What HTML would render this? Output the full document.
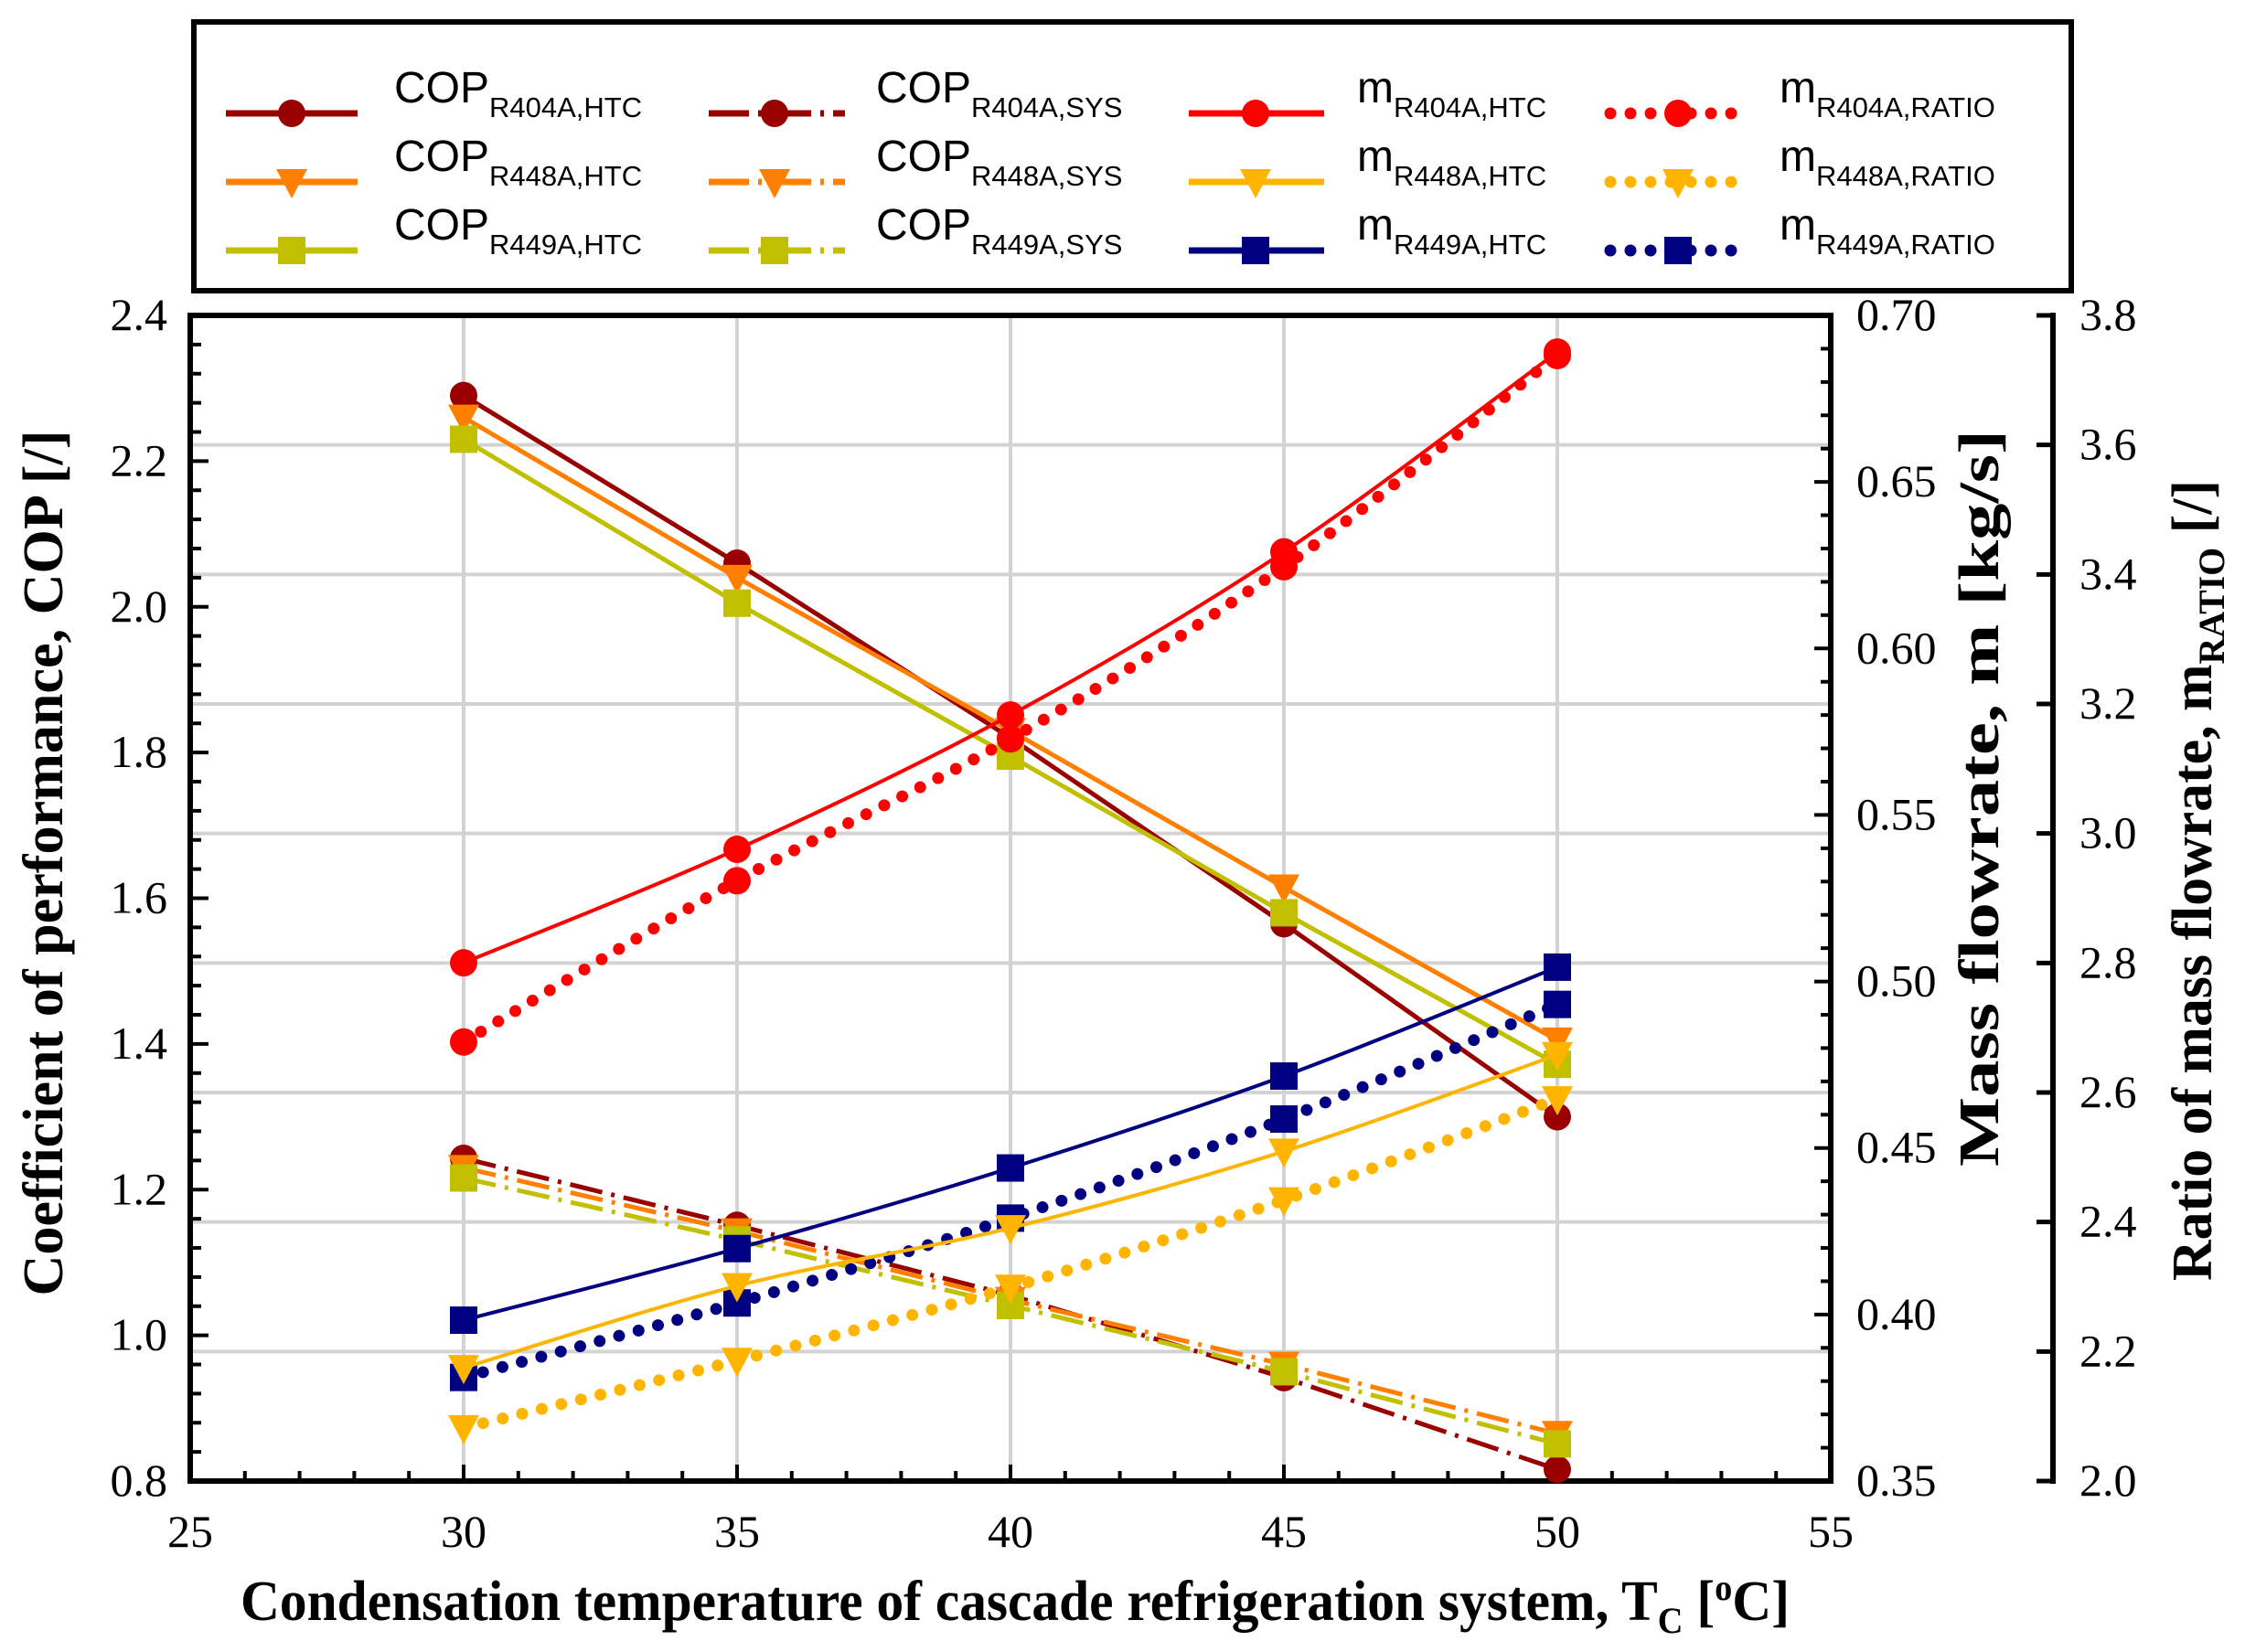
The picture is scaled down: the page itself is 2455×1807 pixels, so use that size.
<!DOCTYPE html>
<html><head><meta charset="utf-8">
<style>
html,body{margin:0;padding:0;background:#fff;}
svg{display:block;}
</style></head>
<body>
<svg id="chart" xmlns="http://www.w3.org/2000/svg" width="2455" height="1807" viewBox="0 0 2455 1807">
<rect x="0" y="0" width="2455" height="1807" fill="#fff"/>
<g id="grid"></g>
<g id="axes"></g>
<g id="series"></g>
<g id="legend"></g>
</svg>
<script>
// ---------- data ----------
const temps = [30, 35, 40, 45, 50];
const copR404aHtc = [2.29, 2.06, 1.82, 1.565, 1.30];
const copR448aHtc = [2.26, 2.04, 1.83, 1.615, 1.405];
const copR449aHtc = [2.23, 2.005, 1.795, 1.58, 1.372];
const copR404aSys = [1.243, 1.151, 1.055, 0.942, 0.816];
const copR448aSys = [1.230, 1.143, 1.049, 0.960, 0.865];
const copR449aSys = [1.216, 1.131, 1.041, 0.950, 0.851];
const mR404aHtc = [0.5056, 0.5397, 0.580, 0.629, 0.689];
const mR448aHtc = [0.384, 0.4086, 0.426, 0.449, 0.478];
const mR449aHtc = [0.3983, 0.4198, 0.444, 0.4716, 0.5043];
const rR404a = [2.678, 2.927, 3.146, 3.412, 3.738];
const rR448a = [2.082, 2.186, 2.299, 2.434, 2.590];
const rR449a = [2.160, 2.275, 2.406, 2.559, 2.736];
const xTicks = [25, 30, 35, 40, 45, 50, 55];
const copTicks = ["0.8","1.0","1.2","1.4","1.6","1.8","2.0","2.2","2.4"];
const massTicks = ["0.35","0.40","0.45","0.50","0.55","0.60","0.65","0.70"];
const ratioTicks = ["2.0","2.2","2.4","2.6","2.8","3.0","3.2","3.4","3.6","3.8"];

// ---------- geometry ----------
const L=208, R=2002, T=345, B=1620, FAR=2245;
const X = v => L + (v-25)/30*(R-L);
const Ycop = v => B - (v-0.8)/1.6*(B-T);
const Ym = v => B - (v-0.35)/0.35*(B-T);
const Yr = v => B - (v-2.0)/1.8*(B-T);
const NS="http://www.w3.org/2000/svg";
function mk(tag, attrs, parent){
  const e=document.createElementNS(NS,tag);
  for(const k in attrs) e.setAttribute(k, attrs[k]);
  parent.appendChild(e); return e;
}
const grid=document.getElementById('grid'), axes=document.getElementById('axes'),
      series=document.getElementById('series'), legend=document.getElementById('legend');
const SERIF='"Liberation Serif", serif', SANS='"Liberation Sans", sans-serif';

// ---------- grid ----------
for(let t=30;t<=50;t+=5){
  const g=mk('line',{x1:X(t),x2:X(t),y1:T,y2:B,stroke:'#d3d3d3','stroke-width':4},grid);
  
  
}
for(let i=1;i<ratioTicks.length-1;i++){
  const y=Yr(parseFloat(ratioTicks[i]));
  const g=mk('line',{x1:L,x2:R,y1:y,y2:y,stroke:'#d3d3d3','stroke-width':4},grid);
  
  
}

// ---------- axes ----------
const frame=mk('path',{d:`M${L},${B} L${L},${T} L${R},${T} L${R},${B} Z`,fill:'none',stroke:'#000','stroke-width':6},axes);


const far=mk('line',{x1:FAR,x2:FAR,y1:T-3,y2:B+3,stroke:'#000','stroke-width':6},axes);


// x ticks
for(let t=26;t<55;t++){
  const len=(t%5===0)?18:11;
  mk('line',{x1:X(t),x2:X(t),y1:B,y2:B-len,stroke:'#000','stroke-width':4},axes);
}
xTicks.forEach(t=>{
  const tx=mk('text',{x:X(t),y:1692,'font-family':SERIF,'font-size':50,'text-anchor':'middle'},axes);
  tx.textContent=t;
  
  
});
// cop ticks
for(let i=1;i<40;i++){
  const v=0.8+i*0.04; const y=Ycop(v);
  const len=(i%5===0)?20:12;
  mk('line',{x1:L,x2:L+len,y1:y,y2:y,stroke:'#000','stroke-width':4},axes);
}
copTicks.forEach(s=>{
  const tx=mk('text',{x:183,y:Ycop(parseFloat(s))+16,'font-family':SERIF,'font-size':50,'text-anchor':'end'},axes);
  tx.textContent=s;
  
  
});
// mass ticks
for(let i=1;i<35;i++){
  const y=Ym(0.35+i*0.01);
  const len=(i%5===0)?18:11;
  mk('line',{x1:R,x2:R-len,y1:y,y2:y,stroke:'#000','stroke-width':4},axes);
}
massTicks.forEach(s=>{
  const tx=mk('text',{x:2030,y:Ym(parseFloat(s))+16,'font-family':SERIF,'font-size':50,'text-anchor':'start'},axes);
  tx.textContent=s;
  
  
});
// ratio ticks
ratioTicks.forEach(s=>{
  const y=Yr(parseFloat(s));
  mk('line',{x1:FAR,x2:FAR-18,y1:y,y2:y,stroke:'#000','stroke-width':5},axes);
  const tx=mk('text',{x:2274,y:y+16,'font-family':SERIF,'font-size':50,'text-anchor':'start'},axes);
  tx.textContent=s;
  
  
});
// titles
function title(name, parts, x, y, rot, len){
  const t=mk('text',{x:0,y:0,'font-family':SERIF,'font-size':62,'font-weight':'bold','text-anchor':'middle',
    transform:`translate(${x},${y}) rotate(${rot})`,textLength:len,lengthAdjust:'spacingAndGlyphs'},axes);
  
  
  parts.forEach(p=>{
    const ts=mk('tspan',{},t);
    if(p.sub){ts.setAttribute('font-size',40);ts.setAttribute('dy',14);}
    if(p.sup){ts.setAttribute('font-size',40);ts.setAttribute('dy',-22);}
    if(p.back){ts.setAttribute('dy',p.back);}
    ts.textContent=p.t;
  });
}
title('x-axis-title',[{t:'Condensation temperature of cascade refrigeration system, T'},{t:'C',sub:1},{t:' [',back:-14},{t:'o',sup:1},{t:'C]',back:22}],1110,1772,0,1694);
title('cop-axis-title',[{t:'Coefficient of performance, COP [/]'}],68,944,-90,947);
title('mass-axis-title',[{t:'Mass flowrate, m [kg/s]'}],2185,873,-90,806);
title('ratio-axis-title',[{t:'Ratio of mass flowrate, m'},{t:'RATIO',sub:1},{t:' [/]',back:-14}],2418,963,-90,876);

// ---------- series ----------
function marker(kind,x,y,color,parent){
  let e;
  if(kind==='circle') e=mk('circle',{cx:x,cy:y,r:15,fill:color},parent);
  else if(kind==='square') e=mk('rect',{x:x-15,y:y-15,width:30,height:30,fill:color},parent);
  else e=mk('path',{d:`M${x-17},${y-14} L${x+17},${y-14} L${x},${y+18} Z`,fill:color},parent);
  return e;
}
function smoothPath(pts){
  let d=`M${pts[0][0]},${pts[0][1]}`;
  for(let i=0;i<pts.length-1;i++){
    const p0=pts[Math.max(0,i-1)],p1=pts[i],p2=pts[i+1],p3=pts[Math.min(pts.length-1,i+2)];
    const c1=[p1[0]+(p2[0]-p0[0])/6,p1[1]+(p2[1]-p0[1])/6];
    const c2=[p2[0]-(p3[0]-p1[0])/6,p2[1]-(p3[1]-p1[1])/6];
    d+=` C${c1[0]},${c1[1]} ${c2[0]},${c2[1]} ${p2[0]},${p2[1]}`;
  }
  return d;
}
const DASHDOT='36 10 4 10';
const specs=[
 {name:'cop-r404a-sys',vals:copR404aSys,y:Ycop,color:'#990000',mk:'circle',dash:DASHDOT,w:5},
 {name:'cop-r448a-sys',vals:copR448aSys,y:Ycop,color:'#ff8000',mk:'tri',dash:DASHDOT,w:5},
 {name:'cop-r449a-sys',vals:copR449aSys,y:Ycop,color:'#c0c000',mk:'square',dash:DASHDOT,w:5},
 {name:'cop-r404a-htc',vals:copR404aHtc,y:Ycop,color:'#990000',mk:'circle',w:5},
 {name:'cop-r448a-htc',vals:copR448aHtc,y:Ycop,color:'#ff8000',mk:'tri',w:5},
 {name:'cop-r449a-htc',vals:copR449aHtc,y:Ycop,color:'#c0c000',mk:'square',w:5},
 {name:'m-r448a-ratio',vals:rR448a,y:Yr,color:'#ffb400',mk:'tri',dot:true,smooth:true},
 {name:'m-r449a-ratio',vals:rR449a,y:Yr,color:'#000080',mk:'square',dot:true,smooth:true},
 {name:'m-r404a-ratio',vals:rR404a,y:Yr,color:'#ff0000',mk:'circle',dot:true,smooth:true},
 {name:'m-r448a-htc',vals:mR448aHtc,y:Ym,color:'#ffb400',mk:'tri',w:4,smooth:true},
 {name:'m-r449a-htc',vals:mR449aHtc,y:Ym,color:'#000080',mk:'square',w:4,smooth:true},
 {name:'m-r404a-htc',vals:mR404aHtc,y:Ym,color:'#ff0000',mk:'circle',w:4,smooth:true},
];
specs.forEach(s=>{
  const g=mk('g',{},series);
  
  
  const pts=temps.map((t,i)=>[X(t),s.y(s.vals[i])]);
  const d=s.smooth?smoothPath(pts):'M'+pts.map(p=>p.join(',')).join(' L');
  const a={d:d,fill:'none',stroke:s.color};
  if(s.dot){a['stroke-width']=13;a['stroke-dasharray']='0 22';a['stroke-linecap']='round';}
  else {a['stroke-width']=s.w; if(s.dash) a['stroke-dasharray']=s.dash;}
  const ln=mk('path',a,g);
  
  
  pts.forEach(p=>{
    const m=marker(s.mk,p[0],p[1],s.color,g);
    
    
  });
});

// ---------- legend ----------
const lb=mk('rect',{x:212,y:24,width:2053,height:294,fill:'#fff',stroke:'#000','stroke-width':6},legend);


const cols=[{l:247,r:391,m:319,t:431,main:'COP',type:'solid'},
            {l:775,r:924,m:847,t:958,main:'COP',type:'dashdot'},
            {l:1300,r:1448,m:1373,t:1484,main:'m',type:'solid'},
            {l:1761,r:1902,m:1835,t:1946,main:'m',type:'dot'}];
const legendItems=[
 [{c:'#990000',k:'circle',s:'R404A,HTC'},{c:'#ff8000',k:'tri',s:'R448A,HTC'},{c:'#c0c000',k:'square',s:'R449A,HTC'}],
 [{c:'#990000',k:'circle',s:'R404A,SYS'},{c:'#ff8000',k:'tri',s:'R448A,SYS'},{c:'#c0c000',k:'square',s:'R449A,SYS'}],
 [{c:'#ff0000',k:'circle',s:'R404A,HTC'},{c:'#ffb400',k:'tri',s:'R448A,HTC'},{c:'#000080',k:'square',s:'R449A,HTC'}],
 [{c:'#ff0000',k:'circle',s:'R404A,RATIO'},{c:'#ffb400',k:'tri',s:'R448A,RATIO'},{c:'#000080',k:'square',s:'R449A,RATIO'}]
];
const rowY=[124,199,274];
cols.forEach((col,ci)=>{
  legendItems[ci].forEach((it,ri)=>{
    const y=rowY[ri];
    const g=mk('g',{},legend);
    
    
    const la={x1:col.l,x2:col.r,y1:y,y2:y,stroke:it.c};
    if(col.type==='dot'){la['stroke-width']=13;la['stroke-dasharray']='0 22';la['stroke-linecap']='round';}
    else {la['stroke-width']=7; if(col.type==='dashdot') la['stroke-dasharray']='44 10 4 10';}
    mk('line',la,g);
    marker(it.k,col.m,y,it.c,g);
    const tx=mk('text',{x:col.t,y:y-12,'font-family':SANS,'font-size':48},g);
    const t1=mk('tspan',{},tx); t1.textContent=col.main;
    const t2=mk('tspan',{'font-size':31,dy:16},tx); t2.textContent=it.s;
  });
});
</script>
</body></html>
